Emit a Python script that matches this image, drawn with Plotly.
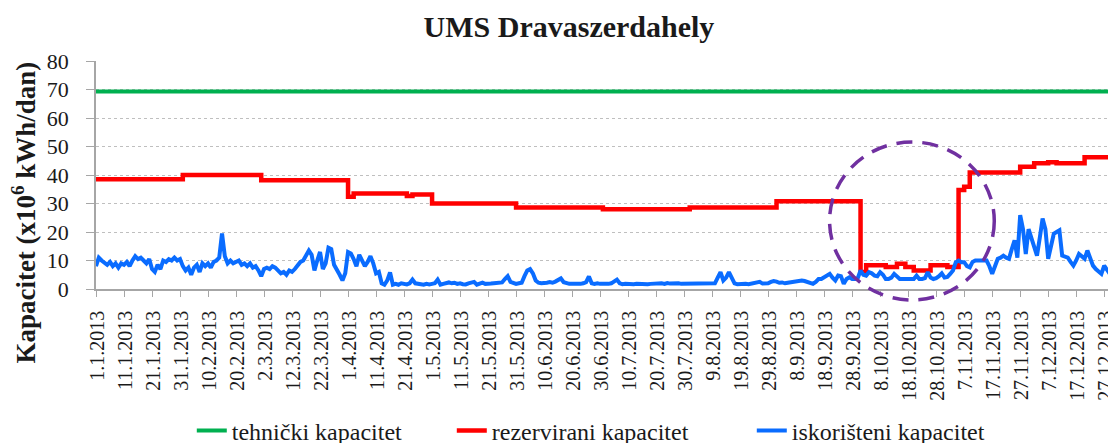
import pandas as pd
import plotly.graph_objects as go

# ---------------- data ----------------
title_text = "UMS Dravaszerdahely"
y_title = "Kapacitet (x10<sup>6</sup> kWh/dan)"
series_names = ["tehnički kapacitet", "rezervirani kapacitet", "iskorišteni kapacitet"]

tick_dates = [
    "2013-01-01", "2013-01-11", "2013-01-21", "2013-01-31", "2013-02-10", "2013-02-20",
    "2013-03-02", "2013-03-12", "2013-03-22", "2013-04-01", "2013-04-11", "2013-04-21",
    "2013-05-01", "2013-05-11", "2013-05-21", "2013-05-31", "2013-06-10", "2013-06-20",
    "2013-06-30", "2013-07-10", "2013-07-20", "2013-07-30", "2013-08-09", "2013-08-19",
    "2013-08-29", "2013-09-08", "2013-09-18", "2013-09-28", "2013-10-08", "2013-10-18",
    "2013-10-28", "2013-11-07", "2013-11-17", "2013-11-27", "2013-12-07", "2013-12-17",
    "2013-12-27",
]
tick_labels = [
    "1.1.2013", "11.1.2013", "21.1.2013", "31.1.2013", "10.2.2013", "20.2.2013",
    "2.3.2013", "12.3.2013", "22.3.2013", "1.4.2013", "11.4.2013", "21.4.2013",
    "1.5.2013", "11.5.2013", "21.5.2013", "31.5.2013", "10.6.2013", "20.6.2013",
    "30.6.2013", "10.7.2013", "20.7.2013", "30.7.2013", "9.8.2013", "19.8.2013",
    "29.8.2013", "8.9.2013", "18.9.2013", "28.9.2013", "8.10.2013", "18.10.2013",
    "28.10.2013", "7.11.2013", "17.11.2013", "27.11.2013", "7.12.2013", "17.12.2013",
    "27.12.2013",
]
y_ticks = [0, 10, 20, 30, 40, 50, 60, 70, 80]

# technical capacity (constant)
tech_dates = ["2013-01-01", "2013-12-31"]
tech_values = [69.3, 69.3]

# reserved capacity: change points (step line)
res_dates = [
    "2013-01-01", "2013-02-01", "2013-03-01", "2013-04-01", "2013-04-03", "2013-04-22",
    "2013-04-24", "2013-05-01", "2013-05-31", "2013-07-01", "2013-08-01", "2013-09-01",
    "2013-10-01", "2013-10-03", "2013-10-10", "2013-10-14", "2013-10-17", "2013-10-20",
    "2013-10-26", "2013-11-01", "2013-11-05", "2013-11-07", "2013-11-09", "2013-11-27",
    "2013-12-02", "2013-12-07", "2013-12-10", "2013-12-20", "2013-12-31",
]
res_values = [
    38.5, 40.0, 38.2, 32.4, 33.5, 32.6,
    33.2, 30.0, 28.6, 28.0, 28.6, 30.8,
    6.0, 8.3, 7.7, 8.9, 7.7, 6.5,
    8.3, 7.7, 34.7, 35.9, 40.9, 42.9,
    44.1, 44.5, 44.1, 46.2, 46.2,
]

# used capacity: daily values 1.1.2013 - 31.12.2013
used_values = [
    8.0, 11.0, 10.0, 9.0, 8.5, 9.5, 8.0, 9.0, 7.5, 9.0,
    8.5, 9.5, 8.0, 10.0, 11.5, 10.5, 11.0, 10.0, 9.0, 10.5,
    7.0, 6.0, 8.5, 7.0, 10.0, 9.5, 10.5, 10.0, 11.0, 10.0,
    10.5, 8.0, 6.5, 7.5, 5.0, 7.5, 8.5, 6.0, 9.0, 8.0,
    9.0, 7.5, 9.5, 10.0, 11.0, 19.5, 11.5, 9.0, 10.0, 9.0,
    9.5, 10.0, 8.5, 9.0, 8.0, 9.0, 7.5, 8.0, 6.5, 4.5,
    7.0, 7.5, 7.0, 8.0, 7.5, 6.5, 5.5, 6.0, 5.0, 6.5,
    6.0, 7.0, 8.5, 9.5, 10.0, 11.5, 13.5, 12.0, 6.5, 10.0,
    13.0, 7.0, 9.0, 14.5, 14.0, 8.5, 7.0, 5.0, 3.0, 5.5,
    13.0, 12.5, 10.5, 8.0, 12.0, 10.0, 8.0, 9.5, 11.5, 9.0,
    5.5, 6.0, 2.0, 1.5, 3.0, 5.8, 1.5, 1.8, 1.5, 2.0,
    1.8, 1.6, 2.0, 3.3, 2.0, 1.8, 1.6, 1.5, 1.8, 1.6,
    1.8, 2.0, 3.3, 1.5, 1.8, 2.2, 2.3, 2.0, 2.2, 1.8,
    2.0, 1.7, 1.6, 2.0, 2.2, 2.5, 1.5, 2.0, 2.2, 1.8,
    2.0, 1.9, 2.0, 2.2, 2.1, 2.3, 3.5, 4.5, 2.5, 2.0,
    1.8, 2.0, 2.2, 4.5, 6.5, 7.0, 5.5, 3.0, 2.2, 2.0,
    2.0, 2.2, 2.4, 2.2, 2.6, 3.2, 3.7, 2.4, 2.0, 1.8,
    1.8, 1.7, 1.9, 1.8, 2.0, 2.4, 4.4, 2.0, 1.8, 2.0,
    1.8, 1.7, 1.9, 1.8, 2.0, 2.5, 3.3, 2.0, 1.7, 1.8,
    1.7, 1.8, 1.7, 1.8, 1.7, 1.9, 1.8, 1.7, 1.8, 1.9,
    1.8, 1.9, 2.0, 1.8, 2.1, 1.9, 2.0, 2.2, 2.0, 1.8,
    1.8, 1.7, 1.9, 1.7, 1.8, 2.0, 1.9, 1.8, 1.7, 2.0,
    1.9, 2.0, 4.0, 5.9, 3.0, 4.0, 5.9, 3.5, 2.0, 1.7,
    1.8, 1.6, 1.8, 1.7, 1.9, 1.8, 2.0, 2.5, 1.9, 1.8,
    2.0, 2.5, 2.8, 2.6, 2.2, 2.3, 2.0, 2.2, 2.4, 2.6,
    2.8, 2.7, 3.0, 2.8, 2.5, 2.2, 1.8, 2.5, 3.5, 3.5,
    4.0, 4.5, 5.3, 4.0, 3.0, 4.7, 4.5, 1.8, 3.5, 4.1,
    3.5, 3.5, 3.8, 6.5, 5.0, 4.7, 5.9, 5.5, 4.7, 4.5,
    5.9, 5.0, 3.5, 3.5, 4.0, 5.3, 4.5, 3.5, 3.5, 3.5,
    3.5, 3.5, 3.5, 4.7, 3.5, 3.5, 3.8, 5.9, 4.0, 3.5,
    3.8, 4.5, 5.5, 4.0, 4.2, 5.3, 6.5, 9.4, 10.0, 9.4,
    9.4, 8.0, 7.6, 9.5, 10.0, 10.0, 10.0, 9.8, 10.0, 8.0,
    5.3, 8.0, 10.6, 11.0, 11.7, 11.0, 10.6, 14.0, 17.1, 11.0,
    25.9, 21.0, 12.3, 21.0, 18.0, 14.2, 11.7, 18.0, 24.7, 21.0,
    10.6, 15.0, 19.4, 20.0, 20.6, 11.7, 11.5, 11.0, 9.5, 8.2,
    10.0, 12.3, 11.5, 10.6, 13.5, 11.0, 8.2, 7.0, 6.0, 5.3,
    8.2, 7.0, 5.3, 10.0, 9.5,
]
used_dates = pd.date_range("2013-01-01", periods=len(used_values), freq="D")

# ---------------- styling ----------------
FONT = "Liberation Serif"
TXT = "#1a1a1a"
GREEN = "#00B050"
RED = "#FF0000"
BLUE = "#0A6CFF"
PURPLE = "#7030A0"
AXIS = "#A6A6A6"
GRID = "#BFBFBF"

fig = go.Figure()
fig.add_trace(go.Scatter(x=tech_dates, y=tech_values, mode="lines", name=series_names[0],
                         line=dict(color=GREEN, width=4), legendwidth=215))
fig.add_trace(go.Scatter(x=res_dates, y=res_values, mode="lines", name=series_names[1],
                         line=dict(color=RED, width=4.5, shape="hv"), legendwidth=255))
fig.add_trace(go.Scatter(x=used_dates, y=used_values, mode="lines", name=series_names[2],
                         line=dict(color=BLUE, width=4)))

# dashed highlight ellipse (annotation)
fig.add_shape(type="circle", xref="paper", yref="paper",
              x0=0.7206, x1=0.8824, y0=-0.048, y1=0.6447,
              line=dict(color=PURPLE, width=3.5, dash="16px,10px"))

# y-axis title (Excel centres it lower than the plot centre)
fig.add_annotation(text="<b>" + y_title + "</b>", textangle=-90,
                   xref="paper", yref="paper", x=-0.0716, y=0.3355,
                   xanchor="center", yanchor="middle", showarrow=False,
                   font=dict(family=FONT, size=27, color=TXT))

fig.update_layout(
    width=1108, height=443,
    margin=dict(l=88, r=0, t=53, b=162),
    paper_bgcolor="white", plot_bgcolor="white",
    font=dict(family=FONT, color=TXT),
    title=dict(text="<b>" + title_text + "</b>", x=0.5063, xanchor="center",
               y=0.958, yanchor="middle", yref="container",
               font=dict(family=FONT, size=30, color=TXT)),
    showlegend=True,
    legend=dict(orientation="h", xref="paper", x=0.0941, xanchor="left",
                yref="container", y=0.0451, yanchor="middle",
                font=dict(family=FONT, size=24, color=TXT), bgcolor="rgba(0,0,0,0)",
                borderwidth=0),
    xaxis=dict(type="date", range=["2013-01-01", "2013-12-30 12:00"],
               tickmode="array", tickvals=tick_dates, ticktext=tick_labels,
               tickangle=-90, tickfont=dict(family=FONT, size=20, color=TXT),
               ticks="outside", ticklen=6, tickcolor=AXIS, tickwidth=1,
               showline=True, linecolor=AXIS, linewidth=1.5,
               showgrid=False, zeroline=False, ticklabelshift=1,
               ticklabelstandoff=6, ticklabeloverflow="allow"),
    yaxis=dict(range=[0, 80], tickmode="array", tickvals=y_ticks,
               tickfont=dict(family=FONT, size=22, color=TXT),
               ticks="outside", ticklen=8, tickcolor=AXIS, tickwidth=1,
               showline=True, linecolor=AXIS, linewidth=1.5,
               showgrid=True, gridcolor=GRID, griddash="dot", gridwidth=1,
               zeroline=False, ticklabelstandoff=13),
)

fig.write_html("out.html")
